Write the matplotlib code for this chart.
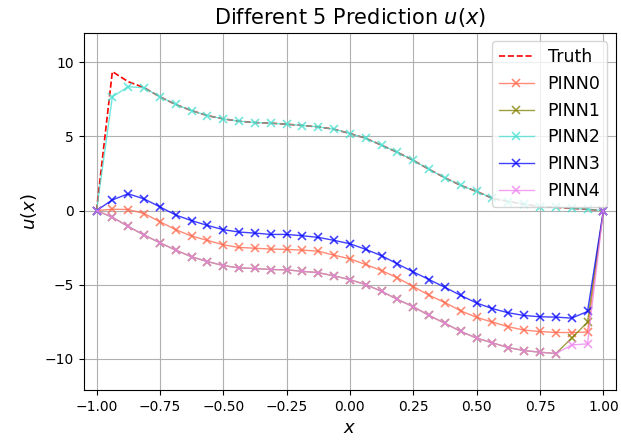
import numpy as np
import matplotlib
matplotlib.use("Agg")
import matplotlib.pyplot as plt

x = np.linspace(-1, 1, 33)

truth = [0, 9.38, 8.7, 8.3, 7.68, 7.16, 6.75, 6.41, 6.19, 6.03, 5.94, 5.9,
         5.83, 5.74, 5.65, 5.49, 5.2, 4.88, 4.41, 3.93, 3.39, 2.78, 2.21, 1.7,
         1.29, 0.83, 0.61, 0.43, 0.27, 0.22, 0.15, 0.08, 0]
pinn0 = [0, 0.09, 0.07, -0.2, -0.75, -1.29, -1.72, -2.01, -2.31, -2.49, -2.54, -2.6,
         -2.62, -2.67, -2.74, -3.01, -3.26, -3.64, -4.05, -4.54, -5.13, -5.72, -6.21, -6.77,
         -7.21, -7.53, -7.84, -8.07, -8.16, -8.23, -8.23, -8.2, 0]
pinn2 = [0, 7.68, 8.36, 8.29, 7.68, 7.16, 6.75, 6.41, 6.19, 6.03, 5.94, 5.9,
         5.83, 5.74, 5.65, 5.49, 5.2, 4.88, 4.41, 3.93, 3.39, 2.78, 2.21, 1.7,
         1.29, 0.83, 0.61, 0.43, 0.27, 0.24, 0.16, 0.09, 0]
pinn3 = [0, 0.72, 1.13, 0.79, 0.25, -0.3, -0.68, -1.0, -1.29, -1.45, -1.52, -1.61,
         -1.61, -1.7, -1.81, -2.01, -2.24, -2.62, -3.05, -3.6, -4.14, -4.66, -5.18, -5.73,
         -6.24, -6.62, -6.9, -7.08, -7.17, -7.19, -7.26, -6.81, 0]
pinn4 = [0, -0.45, -1.07, -1.65, -2.17, -2.67, -3.12, -3.44, -3.71, -3.87, -3.91, -3.98,
         -4.0, -4.1, -4.19, -4.41, -4.66, -5.0, -5.45, -6.0, -6.49, -7.08, -7.61, -8.16,
         -8.61, -8.93, -9.25, -9.45, -9.56, -9.65, -9.07, -9.0, 0]
pinn1 = pinn4[:30] + [-8.61, -7.53, 0]

preds = [pinn0, pinn1, pinn2, pinn3, pinn4]
colors = ['tomato', 'olive', 'turquoise', 'blue', 'violet']

fig = plt.figure(figsize=(6.21, 4.43), dpi=100)
ax = fig.add_axes([0.135, 0.12, 0.857, 0.806])
ax.plot(x, truth, 'r--', lw=1.2, label='Truth')
for i, p in enumerate(preds):
    ax.plot(x, p, marker='x', color=colors[i], lw=1, ms=5.5, mew=1.2, alpha=0.75,
            label='PINN%d' % i)
ax.set_xlim(-1.05, 1.05)
ax.set_ylim(-12.1, 12)
ax.set_xticks(np.arange(-1, 1.01, 0.25))
ax.grid(True)
ax.set_title('Different 5 Prediction $u(x)$', fontsize=15)
ax.set_xlabel('$x$', fontsize=13)
ax.set_ylabel('$u(x)$', fontsize=13)
ax.legend(loc='upper right', fontsize=12.5)
fig.savefig('out.png', dpi=100)
